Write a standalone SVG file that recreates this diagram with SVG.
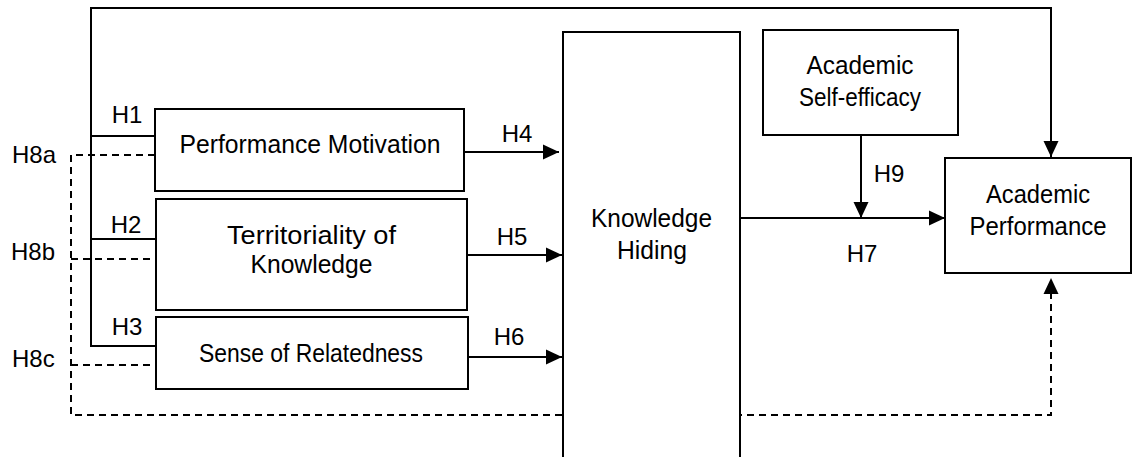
<svg xmlns="http://www.w3.org/2000/svg" width="1134" height="457" viewBox="0 0 1134 457">
<style>
.box{fill:#fff;stroke:#000;stroke-width:2}
.ln{fill:none;stroke:#000;stroke-width:2}
.dash{fill:none;stroke:#000;stroke-width:2;stroke-dasharray:7 5}
text{font-family:"Liberation Sans",Arial,sans-serif;font-size:24px;fill:#000}
.c{text-anchor:middle}
.b{font-size:25px}
</style>
<defs>
<marker id="ah" markerUnits="userSpaceOnUse" markerWidth="16" markerHeight="16" refX="16" refY="8" orient="auto">
<path d="M0,0.5 L16,8 L0,15.5 Z" fill="#000"/>
</marker>
</defs>
<rect width="1134" height="457" fill="#fff"/>
<g id="connectors">
<polyline class="ln" points="91,136 91,8 1051,8 1051,157" marker-end="url(#ah)"/>
<polyline class="ln" points="155,136 91,136 91,346 155,346"/>
<line class="ln" x1="91" y1="239" x2="155" y2="239"/>
<polyline class="dash" points="155,155 71,155 71,415 1051,415 1051,278" marker-end="url(#ah)"/>
<line class="dash" x1="71" y1="259" x2="155" y2="259"/>
<line class="dash" x1="71" y1="365" x2="155" y2="365"/>
<line class="ln" x1="464" y1="152" x2="559" y2="152" marker-end="url(#ah)"/>
<line class="ln" x1="467" y1="255" x2="562" y2="255" marker-end="url(#ah)"/>
<line class="ln" x1="468" y1="357" x2="562" y2="357" marker-end="url(#ah)"/>
<line class="ln" x1="740" y1="218" x2="945" y2="218" marker-end="url(#ah)"/>
<line class="ln" x1="861" y1="136" x2="861" y2="218" marker-end="url(#ah)"/>
<text x="12" y="163">H8a</text>
<text x="11" y="260">H8b</text>
<text x="12" y="367">H8c</text>
<text class="c" x="127" y="123">H1</text>
<text class="c" x="126" y="233">H2</text>
<text class="c" x="127" y="335">H3</text>
<text class="c" x="517" y="142">H4</text>
<text class="c" x="512" y="245">H5</text>
<text class="c" x="509" y="345">H6</text>
<text class="c" x="862" y="262">H7</text>
<text class="c" x="889" y="182">H9</text>
</g>
<g id="performance-motivation">
<rect class="box" x="155" y="109" width="309" height="82"/>
<text class="c b" x="310" y="153" textLength="261" lengthAdjust="spacingAndGlyphs">Performance Motivation</text>
</g>
<g id="territoriality">
<rect class="box" x="156" y="199" width="311" height="111"/>
<text class="c b" x="311.5" y="244" textLength="169" lengthAdjust="spacingAndGlyphs">Territoriality of</text>
<text class="c b" x="311.5" y="273" textLength="122" lengthAdjust="spacingAndGlyphs">Knowledge</text>
</g>
<g id="sense-of-relatedness">
<rect class="box" x="156" y="317" width="312" height="72"/>
<text class="c b" x="311" y="362" textLength="224" lengthAdjust="spacingAndGlyphs">Sense of Relatedness</text>
</g>
<g id="knowledge-hiding">
<rect class="box" x="563" y="32" width="177" height="440"/>
<text class="c b" x="651.5" y="227" textLength="121" lengthAdjust="spacingAndGlyphs">Knowledge</text>
<text class="c b" x="652" y="259" textLength="70" lengthAdjust="spacingAndGlyphs">Hiding</text>
</g>
<g id="academic-self-efficacy">
<rect class="box" x="763" y="30" width="195" height="105"/>
<text class="c b" x="860" y="74" textLength="107" lengthAdjust="spacingAndGlyphs">Academic</text>
<text class="c b" x="860" y="106" textLength="122" lengthAdjust="spacingAndGlyphs">Self-efficacy</text>
</g>
<g id="academic-performance">
<rect class="box" x="945" y="158" width="186" height="115"/>
<text class="c b" x="1038" y="203" textLength="104" lengthAdjust="spacingAndGlyphs">Academic</text>
<text class="c b" x="1038" y="235" textLength="137" lengthAdjust="spacingAndGlyphs">Performance</text>
</g>
</svg>
